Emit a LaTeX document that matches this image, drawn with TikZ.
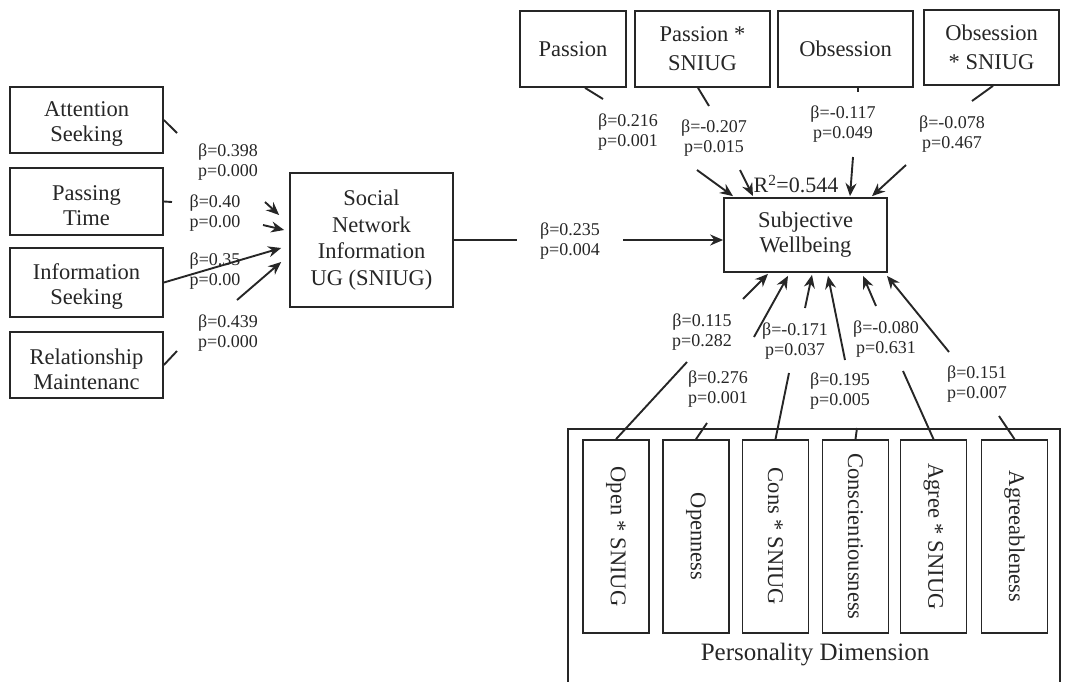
\documentclass[tikz,border=0pt]{standalone}
\usepackage{fontspec}
\setmainfont{Liberation Serif}
\usetikzlibrary{arrows.meta,calc}
\newcommand\boxfnt{\fontsize{22.5}{25}\selectfont}
\newcommand\lblfnt{\fontsize{18}{20.5}\selectfont}
\newcommand\dn{\rule{0pt}{23.5pt}}
\begin{document}
\begin{tikzpicture}[x=1pt,y=-1pt,
  every node/.style={text=black!85},
  box/.style={draw=black!85, line width=1.7pt, inner sep=0pt, align=center, font=\boxfnt},
  vbox/.style={box, minimum width=66pt, minimum height=193pt},
  lbl/.style={align=center, inner sep=0pt, font=\lblfnt},
  conn/.style={draw=black!85, line width=1.9pt},
  arr/.style={conn, -{Stealth[length=13pt,width=11pt]}}]
\useasboundingbox (0,0) rectangle (1065,681);

% left boxes
\node[box, minimum width=153pt, minimum height=66pt] (att) at (86.5,120) {\dn Attention\\Seeking};
\node[box, minimum width=153pt, minimum height=67pt] (pt) at (86.5,201.5) {\dn Passing\\Time};
\node[box, minimum width=153pt, minimum height=69pt] (inf) at (86.5,282.5) {\dn Information\\Seeking};
\node[box, minimum width=153pt, minimum height=66pt] (rel) at (86.5,365) {\dn Relationship\\Maintenanc};

% SNIUG
\node[box, minimum width=163pt, minimum height=134pt, font={\fontsize{22.5}{26.7}\selectfont}] (sn) at (371.5,240) {Social\\Network\\Information\\UG (SNIUG)};

% Subjective wellbeing
\node[box, minimum width=163pt, minimum height=74pt] (swb) at (805.5,235) {Subjective\\Wellbeing};

% top boxes
\node[box, minimum width=106pt, minimum height=76pt] (t1) at (573,49) {Passion};
\node[box, minimum width=135pt, minimum height=76pt, font={\fontsize{22.5}{29}\selectfont}] (t2) at (702.5,49) {Passion *\\SNIUG};
\node[box, minimum width=135pt, minimum height=76pt] (t3) at (845.5,49) {Obsession};
\node[box, minimum width=135pt, minimum height=75pt, font={\fontsize{22.5}{29}\selectfont}] (t4) at (991.5,47.5) {Obsession\\* SNIUG};

% personality container
\draw[draw=black!85, line width=1.7pt] (568,690) -- (568,429) -- (1060,429) -- (1060,690);
\node[font={\fontsize{25}{28}\selectfont}, inner sep=0pt] (pd) at (815,655) {Personality Dimension};
\node[vbox] (b1) at (616,536.5) {\rotatebox{-90}{Open * SNIUG}};
\node[vbox] (b2) at (696,536.5) {\rotatebox{-90}{Openness}};
\node[vbox] (b3) at (775.5,536.5) {\rotatebox{-90}{Cons * SNIUG}};
\node[vbox] (b4) at (855.5,536.5) {\rotatebox{-90}{Conscientiousness}};
\node[vbox] (b5) at (933.5,536.5) {\rotatebox{-90}{Agree * SNIUG}};
\node[vbox] (b6) at (1014.5,536.5) {\rotatebox{-90}{Agreeableness}};

% labels
\node[lbl] (l1) at (228,162) {β=0.398\\p=0.000};
\node[lbl] (l2) at (215,213) {β=0.40\\p=0.00};
\node[lbl] (l3) at (215,271) {β=0.35\\p=0.00};
\node[lbl] (l4) at (228,333) {β=0.439\\p=0.000};
\node[lbl] (lm) at (570,241) {β=0.235\\p=0.004};
\node[lbl] (lt1) at (628,132) {β=0.216\\p=0.001};
\node[lbl] (lt2) at (714,138) {β=-0.207\\p=0.015};
\node[lbl] (lt3) at (843,124) {β=-0.117\\p=0.049};
\node[lbl] (lt4) at (952,134) {β=-0.078\\p=0.467};
\node[lbl] (lb1) at (702,332) {β=0.115\\p=0.282};
\node[lbl] (lb2) at (718,389) {β=0.276\\p=0.001};
\node[lbl] (lb3) at (795,341) {β=-0.171\\p=0.037};
\node[lbl] (lb4) at (840,391) {β=0.195\\p=0.005};
\node[lbl] (lb5) at (886,339) {β=-0.080\\p=0.631};
\node[lbl] (lb6) at (977,384) {β=0.151\\p=0.007};
\node[inner sep=0pt, font={\fontsize{22}{24}\selectfont}] (r2) at (796,184) {R\textsuperscript{2}=0.544};

% coordinates
\coordinate (ca1) at (177,133); \coordinate (ca2) at (265,202);
\coordinate (cp1) at (172,202); \coordinate (cp2) at (263,225);
\coordinate (cr1) at (177,351); \coordinate (cr2) at (237,300);
\coordinate (cm1) at (517,240); \coordinate (cm2) at (623,240);
\coordinate (ct1a) at (603,99);  \coordinate (ct1b) at (697,170);
\coordinate (ct2a) at (709,106); \coordinate (ct2b) at (740,170);
\coordinate (ct3a) at (858,92);  \coordinate (ct3b) at (853,157);
\coordinate (ct4a) at (972,101); \coordinate (ct4b) at (906,165);
\coordinate (cb1a) at (687,362); \coordinate (cb1b) at (743,299);
\coordinate (cb2a) at (707,423); \coordinate (cb2b) at (754,337);
\coordinate (cb3a) at (789,373); \coordinate (cb3b) at (805,308);
\coordinate (cb4a) at (857,428); \coordinate (cb4b) at (845,360);
\coordinate (cb5a) at (903,371); \coordinate (cb5b) at (876,306);
\coordinate (cb6a) at (999,416); \coordinate (cb6b) at (949,352);

% left connectors
\draw[conn] (att.east) -- (ca1);
\draw[arr] (ca2) -- ($(sn.west)+(-10,-25)$);
\draw[conn] (pt.east) -- (cp1);
\draw[arr] (cp2) -- ($(sn.west)+(-5,-10)$);
\draw[arr] (inf.east) -- ($(sn.west)+(-8,8)$);
\draw[conn] (rel.east) -- (cr1);
\draw[arr] (cr2) -- ($(sn.west)+(-8,22)$);

% middle
\draw[conn] (sn.east) -- (cm1);
\draw[arr] (cm2) -- (cm2 -| swb.west);

% top connectors
\draw[conn] ($(t1.south)+(12,0)$) -- (ct1a);
\draw[arr] (ct1b) -- ($(swb.north)+(-72.5,-1)$);
\draw[conn] ($(t2.south)+(-4.5,0)$) -- (ct2a);
\draw[arr] (ct2b) -- ($(swb.north)+(-52.5,-1)$);
\draw[conn] ($(t3.south)+(12.5,0)$) -- (ct3a);
\draw[arr] (ct3b) -- ($(swb.north)+(44.5,-1)$);
\draw[conn] ($(t4.south)+(1.5,0)$) -- (ct4a);
\draw[arr] (ct4b) -- ($(swb.north)+(66.5,-1)$);

% bottom connectors
\draw[conn] (b1.north) -- (cb1a);
\draw[arr] (cb1b) -- ($(swb.south)+(-37.5,1)$);
\draw[conn] (b2.north) -- (cb2a);
\draw[arr] (cb2b) -- ($(swb.south)+(-17.5,3)$);
\draw[conn] (b3.north) -- (cb3a);
\draw[arr] (cb3b) -- ($(swb.south)+(6.5,2)$);
\draw[conn] (b4.north) -- (cb4a);
\draw[arr] (cb4b) -- ($(swb.south)+(22.5,3)$);
\draw[conn] (b5.north) -- (cb5a);
\draw[arr] (cb5b) -- ($(swb.south)+(57.5,3)$);
\draw[conn] (b6.north) -- (cb6a);
\draw[arr] (cb6b) -- ($(swb.south)+(81.5,3)$);
\end{tikzpicture}
\end{document}
